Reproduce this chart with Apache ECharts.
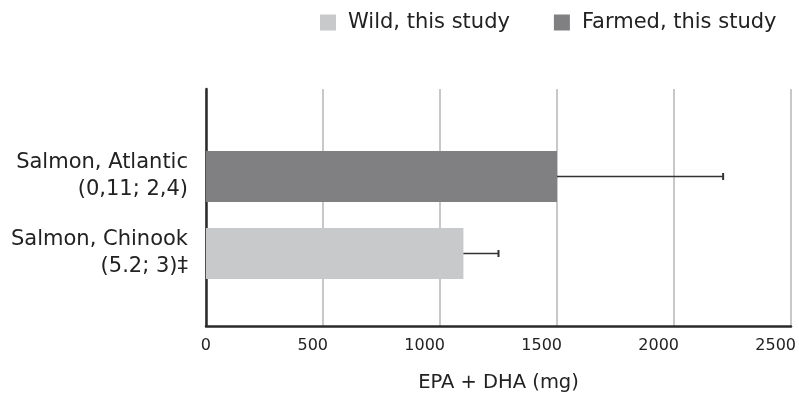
<!DOCTYPE html>
<html>
<head>
<meta charset="utf-8">
<script src="https://cdn.jsdelivr.net/npm/echarts@6/dist/echarts.min.js"></script>
<style>html,body{margin:0;padding:0;background:#fff}#c{width:799px;height:409px}</style>
</head>
<body>
<div id="c"></div>
<script>
var categories = ['Salmon, Chinook\n(5.2; 3)\u2021', 'Salmon, Atlantic\n(0,11; 2,4)'];
var seriesNames = ['Wild, this study', 'Farmed, this study'];
var wildValues = [1100, '-'];
var farmedValues = ['-', 1500];
var wildErrorHigh = [1250, '-'];
var farmedErrorHigh = ['-', 2210];
var xTicks = [0, 500, 1000, 1500, 2000, 2500];
var xTitle = 'EPA + DHA (mg)';

var FONT = 'DejaVu Sans';
var TXT = '#222222';
var LIGHT = '#c8c9cb';
var DARK = '#808083';

function errData(vals, highs) {
  var out = [];
  for (var i = 0; i < vals.length; i++) {
    if (vals[i] !== '-') out.push([i, vals[i], highs[i]]);
  }
  return out;
}

function renderErr(params, api) {
  var cat = api.value(0);
  var p0 = api.coord([api.value(1), cat]);
  var p1 = api.coord([api.value(2), cat]);
  return {
    type: 'group',
    children: [
      {type: 'line', shape: {x1: p0[0], y1: p0[1], x2: p1[0], y2: p1[1]}, style: {stroke: '#333333', lineWidth: 1.6}},
      {type: 'line', shape: {x1: p1[0], y1: p1[1] - 3.5, x2: p1[0], y2: p1[1] + 3.5}, style: {stroke: '#333333', lineWidth: 2}}
    ]
  };
}

var chart = echarts.init(document.getElementById('c'), null, {renderer: 'canvas'});
chart.setOption({
  animation: false,
  backgroundColor: '#ffffff',
  legend: {
    left: 320, top: 12, padding: 0,
    itemWidth: 16, itemHeight: 16, itemGap: 44,
    icon: 'rect',
    data: seriesNames,
    textStyle: {fontFamily: FONT, fontSize: 21, color: TXT, padding: [0, 0, 0, 7]}
  },
  grid: [
    {left: 206, right: 8, top: 89, bottom: 83, containLabel: false},
    {left: 206, right: 8, top: 138, bottom: 117, containLabel: false}
  ],
  xAxis: [
    {
      type: 'value', gridIndex: 0, min: xTicks[0], max: xTicks[xTicks.length - 1], interval: xTicks[1] - xTicks[0],
      axisLine: {show: true, lineStyle: {color: '#2a2a2a', width: 2.5}},
      axisTick: {show: false},
      splitLine: {show: true, lineStyle: {color: '#c8c8ca', width: 2}},
      axisLabel: {
        fontFamily: FONT, fontSize: 16, color: TXT, margin: 12, align: 'right', padding: [0, -5, 0, 0],
        formatter: function (v) { return String(v); }
      },
      name: xTitle, nameLocation: 'middle', nameGap: 47,
      nameTextStyle: {fontFamily: FONT, fontSize: 19.5, color: TXT}
    },
    {
      type: 'value', gridIndex: 1, min: xTicks[0], max: xTicks[xTicks.length - 1],
      show: false, splitLine: {show: false}
    }
  ],
  yAxis: [
    {
      type: 'category', gridIndex: 0, data: [''],
      axisLine: {show: true, lineStyle: {color: '#2a2a2a', width: 2.5}},
      axisTick: {show: false}, axisLabel: {show: false}, splitLine: {show: false}
    },
    {
      type: 'category', gridIndex: 1, data: categories,
      axisLine: {show: false}, axisTick: {show: false}, splitLine: {show: false},
      axisLabel: {fontFamily: FONT, fontSize: 21, color: TXT, margin: 18, lineHeight: 27, align: 'right'}
    }
  ],
  series: [
    {
      name: seriesNames[0], type: 'bar', xAxisIndex: 1, yAxisIndex: 1,
      data: wildValues, barWidth: 51, barGap: '-100%',
      itemStyle: {color: LIGHT}
    },
    {
      name: seriesNames[1], type: 'bar', xAxisIndex: 1, yAxisIndex: 1,
      data: farmedValues, barWidth: 51, barGap: '-100%',
      itemStyle: {color: DARK}
    },
    {
      type: 'custom', xAxisIndex: 1, yAxisIndex: 1, z: 5,
      renderItem: renderErr,
      encode: {x: [1, 2], y: 0},
      data: errData(wildValues, wildErrorHigh)
    },
    {
      type: 'custom', xAxisIndex: 1, yAxisIndex: 1, z: 5,
      renderItem: renderErr,
      encode: {x: [1, 2], y: 0},
      data: errData(farmedValues, farmedErrorHigh)
    }
  ]
});
</script>
</body>
</html>
